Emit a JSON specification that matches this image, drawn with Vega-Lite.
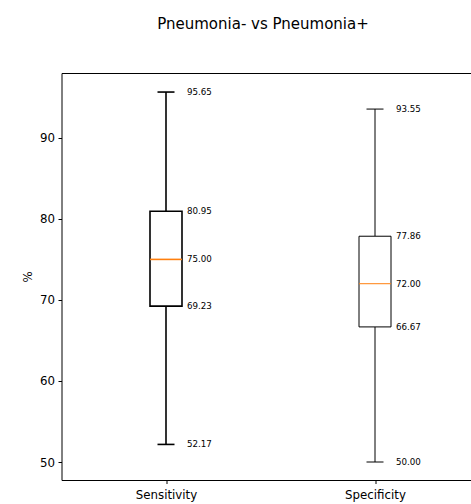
{
  "$schema": "https://vega.github.io/schema/vega-lite/v6.json",
  "autosize": "none",
  "width": 418,
  "height": 407,
  "padding": {"left": 61.5, "top": 73, "right": 0, "bottom": 24},
  "background": "white",
  "title": {
    "text": "Pneumonia- vs Pneumonia+",
    "anchor": "middle",
    "frame": "group",
    "dx": -7.5,
    "offset": 41,
    "dy": 12,
    "baseline": "alphabetic",
    "font": "DejaVu Sans",
    "fontSize": 15,
    "fontWeight": "normal",
    "color": "black"
  },
  "config": {
    "view": {"stroke": "black", "strokeWidth": 1},
    "axis": {
      "labelFont": "DejaVu Sans",
      "titleFont": "DejaVu Sans",
      "labelFontSize": 11.8,
      "titleFontSize": 11.8,
      "titleFontWeight": "normal",
      "labelColor": "black",
      "titleColor": "black",
      "tickColor": "black",
      "tickSize": 3.5,
      "labelPadding": 3.5,
      "domain": false,
      "grid": false
    }
  },
  "data": {
    "values": [
      {"cat": "Sensitivity", "min": 52.17, "q1": 69.23, "median": 75.00, "q3": 80.95, "max": 95.65},
      {"cat": "Specificity", "min": 50.00, "q1": 66.67, "median": 72.00, "q3": 77.86, "max": 93.55}
    ]
  },
  "encoding": {
    "x": {
      "field": "cat",
      "type": "nominal",
      "scale": {"type": "point", "padding": 0.5, "domain": ["Sensitivity", "Specificity"]},
      "axis": {"title": null, "labelAngle": 0, "labelPadding": 5.5}
    }
  },
  "layer": [
    {
      "mark": {"type": "rule", "color": "black"},
      "encoding": {
        "y": {"field": "min", "type": "quantitative", "scale": {"domain": [47.78, 98.0], "nice": false, "zero": false}, "axis": {"title": "%", "values": [50, 60, 70, 80, 90], "titlePadding": 6}},
        "y2": {"field": "q1"},
        "strokeWidth": {"condition": {"test": "datum.cat === 'Sensitivity'", "value": 1.6}, "value": 1}
      }
    },
    {
      "mark": {"type": "rule", "color": "black"},
      "encoding": {
        "y": {"field": "q3", "type": "quantitative"},
        "y2": {"field": "max"},
        "strokeWidth": {"condition": {"test": "datum.cat === 'Sensitivity'", "value": 1.6}, "value": 1}
      }
    },
    {
      "mark": {"type": "rule", "color": "black", "xOffset": -8.5, "x2Offset": 8.5},
      "encoding": {
        "x2": {"field": "cat"},
        "y": {"field": "min", "type": "quantitative"},
        "strokeWidth": {"condition": {"test": "datum.cat === 'Sensitivity'", "value": 1.6}, "value": 1}
      }
    },
    {
      "mark": {"type": "rule", "color": "black", "xOffset": -8.5, "x2Offset": 8.5},
      "encoding": {
        "x2": {"field": "cat"},
        "y": {"field": "max", "type": "quantitative"},
        "strokeWidth": {"condition": {"test": "datum.cat === 'Sensitivity'", "value": 1.6}, "value": 1}
      }
    },
    {
      "mark": {"type": "bar", "width": 32, "fill": "white", "stroke": "black"},
      "encoding": {
        "y": {"field": "q1", "type": "quantitative"},
        "y2": {"field": "q3"},
        "strokeWidth": {"condition": {"test": "datum.cat === 'Sensitivity'", "value": 1.6}, "value": 1}
      }
    },
    {
      "mark": {"type": "rule", "color": "#ff7f0e", "xOffset": -16, "x2Offset": 16},
      "encoding": {
        "x2": {"field": "cat"},
        "y": {"field": "median", "type": "quantitative"},
        "strokeWidth": {"condition": {"test": "datum.cat === 'Sensitivity'", "value": 1.6}, "value": 1}
      }
    },
    {
      "transform": [{"fold": ["min", "q1", "median", "q3", "max"], "as": ["stat", "v"]}],
      "mark": {"type": "text", "align": "left", "baseline": "middle", "xOffset": 21, "font": "DejaVu Sans", "fontSize": 8.7, "color": "black"},
      "encoding": {
        "y": {"field": "v", "type": "quantitative"},
        "text": {"field": "v", "type": "quantitative", "format": ".2f"}
      }
    }
  ]
}
